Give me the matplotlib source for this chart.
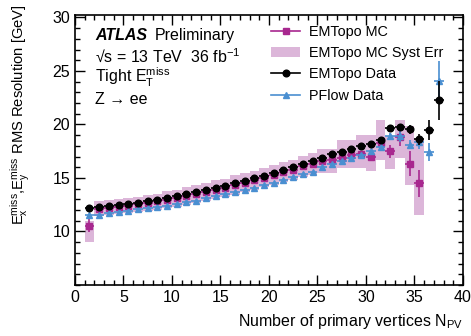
import numpy as np
import matplotlib
matplotlib.use("Agg")
import matplotlib.pyplot as plt
from matplotlib.lines import Line2D
from matplotlib.patches import Patch
from matplotlib.ticker import MultipleLocator

plt.rcParams['font.family'] = ['Liberation Sans', 'DejaVu Sans']
plt.rcParams['mathtext.fontset'] = 'custom'
plt.rcParams['mathtext.rm'] = 'Liberation Sans'
plt.rcParams['mathtext.it'] = 'Liberation Sans:italic'
plt.rcParams['mathtext.bf'] = 'Liberation Sans:bold'

# Bin centres (Npv)
npv_data = np.arange(1, 38) + 0.5
npv_mc = np.arange(1, 36) + 0.5

# EMTopo data
emtopo_data = [12.15, 12.24, 12.37, 12.43, 12.52, 12.68, 12.80, 12.96, 13.12, 13.27,
               13.50, 13.68, 13.87, 14.05, 14.27, 14.52, 14.74, 14.95, 15.20, 15.45,
               15.73, 15.98, 16.27, 16.55, 16.83, 17.23, 17.42, 17.66, 17.94, 18.20,
               18.50, 19.66, 19.75, 19.53, 18.60, 19.50, 22.25]
emtopo_err = [0.05] * 31 + [0.25, 0.3, 0.4, 0.5, 0.95, 1.8]

# PFlow data
pflow_data = [11.53, 11.53, 11.68, 11.84, 11.93, 12.06, 12.15, 12.28, 12.40, 12.56,
              12.71, 12.87, 13.08, 13.27, 13.50, 13.71, 13.90, 14.08, 14.30, 14.52,
              14.80, 15.05, 15.33, 15.60, 16.00, 16.27, 16.60, 16.90, 17.17, 17.48,
              17.85, 18.94, 18.94, 18.10, 18.35, 17.42, 24.10]
pflow_err = [0.05] * 31 + [0.3, 0.6, 0.4, 0.6, 0.85, 1.8]

# EMTopo MC
emtopo_mc = [10.53, 12.10, 12.20, 12.30, 12.38, 12.52, 12.65, 12.80, 12.96, 13.10,
             13.30, 13.50, 13.68, 13.87, 14.08, 14.33, 14.55, 14.80, 15.02, 15.27,
             15.55, 15.77, 16.07, 16.30, 16.60, 16.70, 16.85, 17.10, 17.20, 17.00,
             18.30, 17.48, 18.82, 16.33, 14.50]
emtopo_mc_err = [0.6] + [0.05] * 28 + [0.3, 0.4, 0.62, 0.86, 1.17, 1.25]
syst_up = [0.40, 0.70, 0.75, 0.70, 0.75, 0.70, 0.80, 0.70, 0.80, 0.75,
           0.85, 0.80, 0.85, 0.90, 0.85, 0.90, 0.90, 0.85, 0.95, 0.90,
           0.95, 0.95, 1.00, 1.05, 1.10, 1.00, 1.72, 1.47, 1.84, 2.04,
           2.14, 1.42, 1.62, 3.57, 4.10]
syst_dn = [1.56, 0.70, 0.70, 0.70, 0.70, 0.70, 0.75, 0.75, 0.80, 0.80,
           0.80, 0.80, 0.85, 0.85, 0.85, 0.90, 0.90, 0.90, 0.90, 0.95,
           0.95, 0.95, 1.00, 1.00, 1.10, 1.20, 0.93, 1.18, 1.28, 1.33,
           1.60, 1.68, 1.92, 2.03, 3.00]

c_mc = '#a8288f'
c_band = '#dcb6d9'
c_blue = '#4a8fd1'

fig = plt.figure(figsize=(4.71, 3.36), dpi=100)
ax = fig.add_axes([0.159, 0.152, 0.824, 0.804])

mc = np.array(emtopo_mc)
lo = mc - np.array(syst_dn)
hi = mc + np.array(syst_up)
ax.bar(npv_mc, hi - lo, bottom=lo, width=1.0, color=c_band, linewidth=0, zorder=1)

ax.errorbar(npv_mc, emtopo_mc, yerr=emtopo_mc_err, xerr=0.5, fmt='s', color=c_mc,
            ms=4.8, elinewidth=1.2, capsize=0, zorder=2)
ax.errorbar(npv_data, pflow_data, yerr=pflow_err, xerr=0.5, fmt='^', color=c_blue,
            ms=4.8, elinewidth=1.2, capsize=0, zorder=3)
ax.errorbar(npv_data, emtopo_data, yerr=emtopo_err, xerr=0.5, fmt='o', color='black',
            ms=4.8, elinewidth=1.2, capsize=0, zorder=4)

ax.set_xlim(0, 40)
ax.set_ylim(5, 30.25)
ax.xaxis.set_major_locator(MultipleLocator(5))
ax.xaxis.set_minor_locator(MultipleLocator(1))
ax.yaxis.set_major_locator(MultipleLocator(5))
ax.yaxis.set_minor_locator(MultipleLocator(1))
ax.set_yticks([10, 15, 20, 25, 30])
ax.tick_params(which='both', direction='in', top=True, right=True, labelsize=11.5)
ax.tick_params(which='major', length=7, width=1)
ax.tick_params(which='minor', length=3.5, width=1)
ax.tick_params(axis='x', pad=4)
for s in ax.spines.values():
    s.set_linewidth(1.2)

ax.set_xlabel(r'Number of primary vertices N$_{\mathrm{PV}}$', fontsize=11.5, loc='right')
ax.xaxis.set_label_coords(1.0, -0.1)
ax.set_ylabel(r'$\mathrm{E}_{\mathrm{x}}^{\mathrm{miss}}$,$\mathrm{E}_{\mathrm{y}}^{\mathrm{miss}}$ RMS Resolution [GeV]',
              fontsize=10.6, loc='top')
ax.yaxis.set_label_coords(-0.11, 1.037)

tsize = 11.5
ax.text(0.052, 0.925, 'ATLAS', transform=ax.transAxes, fontsize=tsize,
        fontweight='bold', style='italic', va='center')
ax.text(0.205, 0.925, 'Preliminary', transform=ax.transAxes, fontsize=tsize, va='center')
ax.text(0.052, 0.846, '√s = 13 TeV  36 fb$^{\\mathrm{-1}}$', transform=ax.transAxes,
        fontsize=tsize, va='center')
ax.text(0.052, 0.767, r'Tight E$_{\mathrm{T}}^{\mathrm{miss}}$', transform=ax.transAxes,
        fontsize=tsize, va='center')
ax.text(0.052, 0.688, 'Z → ee', transform=ax.transAxes,
        fontsize=tsize, va='center')

handles = [
    Line2D([], [], color=c_mc, marker='s', ms=4.8, lw=1.2),
    Patch(facecolor=c_band, edgecolor='none'),
    Line2D([], [], color='black', marker='o', ms=4.8, lw=1.2),
    Line2D([], [], color=c_blue, marker='^', ms=4.8, lw=1.2),
]
labels = ['EMTopo MC', 'EMTopo MC Syst Err', 'EMTopo Data', 'PFlow Data']
ax.legend(handles, labels, loc='upper left', bbox_to_anchor=(0.48, 1.0), frameon=False,
          fontsize=10.4, handlelength=2.0, handletextpad=0.6, labelspacing=0.5,
          borderaxespad=0.3)

fig.savefig('out.png', dpi=100)
